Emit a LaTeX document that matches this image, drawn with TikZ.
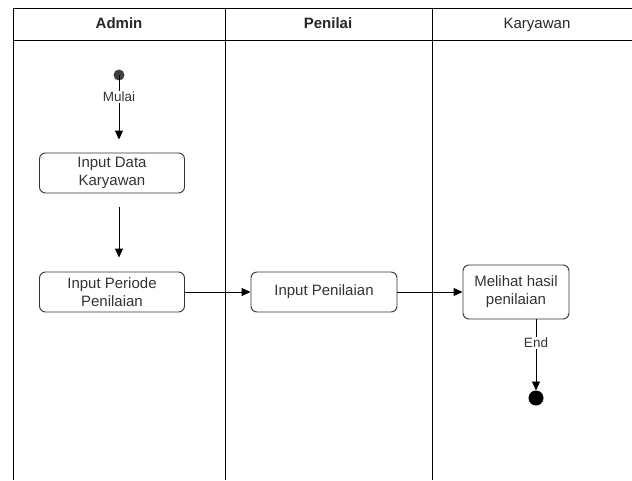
\documentclass[tikz,border=0pt]{standalone}
\usepackage{fontspec}
\setmainfont{Liberation Sans}
\usetikzlibrary{arrows.meta}
\def\lanetop{8}
\def\headbottom{40}
\def\lanebottom{480}

\tikzset{
  lane/.style={draw=black, line width=0.9pt},
  lanetitle/.style={text=black!85, anchor=base, font=\fontsize{15}{17}\selectfont},
  activity/.style={draw=black!80, line width=0.9pt, rounded corners=6pt, align=center,
    text=black!80, font=\fontsize{15}{18}\selectfont, inner sep=0pt},
  flow/.style={draw=black, line width=0.9pt, -{Triangle[length=9pt,width=8pt]}},
  flowlabel/.style={fill=white, text=black!80, inner sep=1pt, font=\fontsize{13.5}{15}\selectfont}
}

\begin{document}
\begin{tikzpicture}[x=1pt, y=-1pt]
      \useasboundingbox (0,0) rectangle (632,480);

      % Swimlanes
      \draw[lane] (632,\lanetop) -- (13,\lanetop) -- (13,\lanebottom);
      \draw[lane] (13,\headbottom) -- (632,\headbottom);
      \draw[lane] (225,\lanetop) -- (225,\lanebottom);
      \draw[lane] (432,\lanetop) -- (432,\lanebottom);

      \node[lanetitle] (admin) at (119,28.5) {\bfseries Admin};
      \node[lanetitle] (penilai) at (328,28.5) {\bfseries Penilai};
      \node[lanetitle] (karyawan) at (537,28.5) {Karyawan};

      % Start
      \fill[black!75] (119,75) circle (5.5pt);
      \coordinate (start) at (119,75);

      % Admin
      \node[activity, minimum width=145pt, minimum height=40pt] (data) at (112,173) {Input Data\\Karyawan};
      \node[activity, minimum width=145pt, minimum height=40pt] (periode) at (112,292) {Input Periode\\Penilaian};

      % Penilai
      \node[activity, minimum width=146pt, minimum height=40pt] (nilai) at (324,292) {Input Penilaian};

      % Karyawan
      \node[activity, minimum width=106pt, minimum height=54pt] (hasil) at (516,292) {Melihat hasil\\penilaian};

      % End
      \fill[black] (536,398) circle (7.5pt);
      \coordinate (finish) at (536,398);

      % Flows
      \draw[flow, shorten >=13pt] (start) -- node[flowlabel, pos=0.28] {Mulai} (start |- data.north);
      \draw[flow, shorten <=14pt, shorten >=14pt] (start |- data.south) -- (start |- periode.north);
      \draw[flow] (periode.east) -- (nilai.west);
      \draw[flow] (nilai.east) -- (hasil.west);
      \draw[flow, shorten >=7.5pt] (finish |- hasil.south) -- node[flowlabel, pos=0.3] {End} (finish);

    \end{tikzpicture}
\end{document}
